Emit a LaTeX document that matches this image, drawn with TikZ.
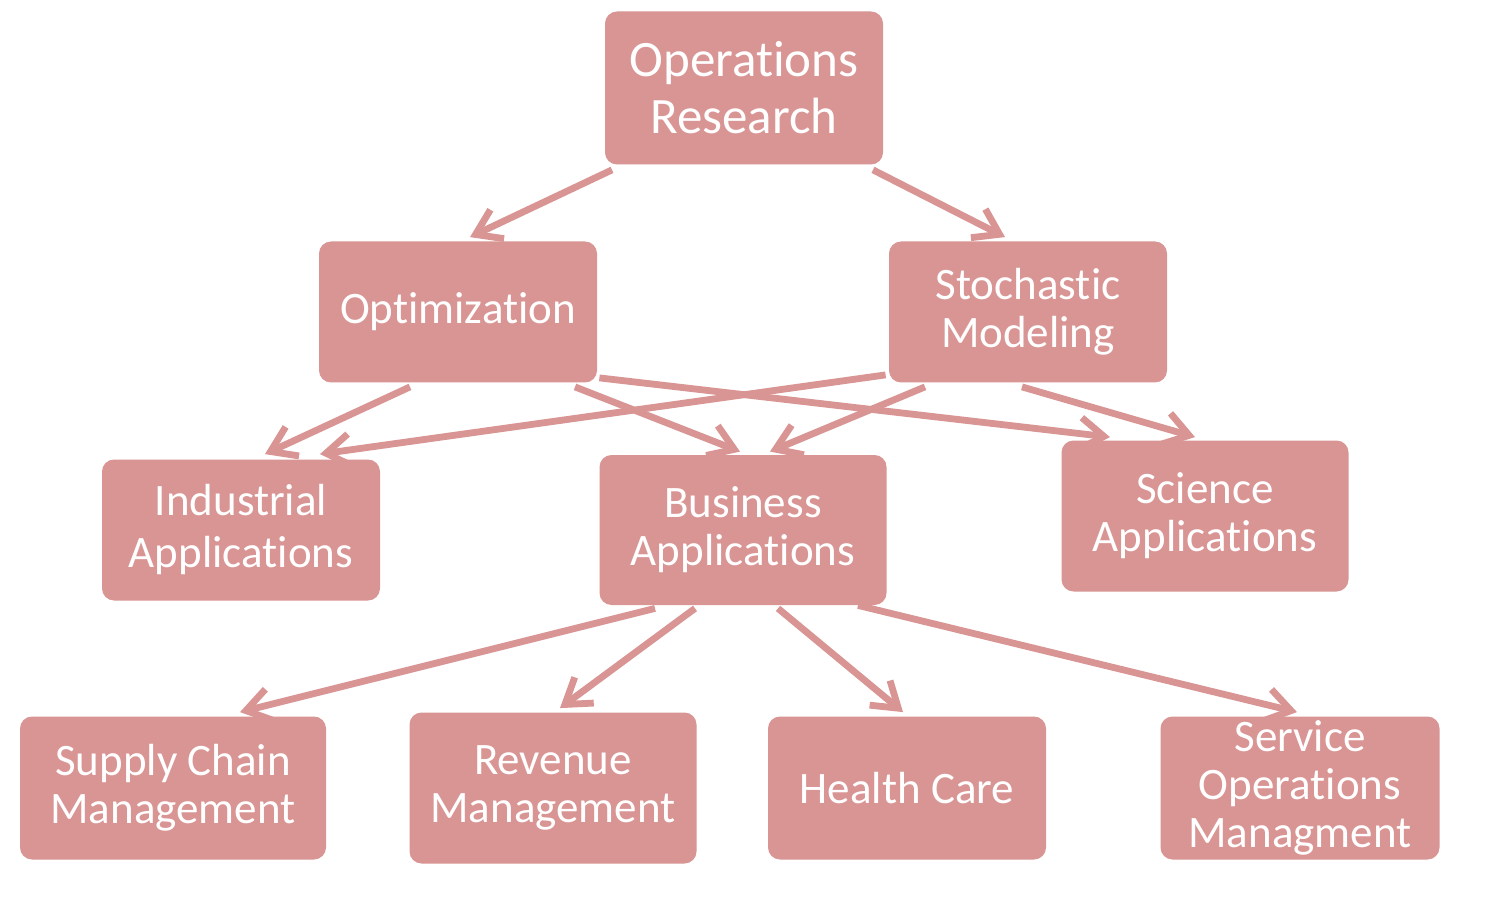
\documentclass[tikz,border=0pt]{standalone}
\usepackage{fontspec}
\setmainfont{Carlito}[Ligatures=NoCommon]
\usetikzlibrary{arrows.meta,calc}
\definecolor{rose}{HTML}{D99594}
\begin{document}
\begin{tikzpicture}[x=0.5pt,y=-0.5pt,
  box/.style={fill=rose,text=white,rounded corners=6pt,align=center,inner sep=0pt,
    font=\fontsize{22.5}{24}\selectfont},
  link/.style={draw=rose,line width=3.4pt,-{Straight Barb[length=12pt,width=16pt]}}]
\useasboundingbox[fill=white] (0,0) rectangle (1500,909);
\node[box,minimum width=139pt,minimum height=76.5pt,font=\fontsize{25.5}{28.5}\selectfont] (or) at (744,88) {Operations\\Research};
\node[box,minimum width=139pt,minimum height=70.5pt] (opt) at (458,312) {Optimization};
\node[box,minimum width=139pt,minimum height=70.5pt] (sto) at (1028,312) {Stochastic\\Modeling};
\node[box,minimum width=139pt,minimum height=70.5pt,font=\fontsize{22.5}{26}\selectfont] (ind) at (241,530) {Industrial\\Applications};
\node[box,minimum width=143.5pt,minimum height=75pt] (bus) at (743,530) {Business\\Applications};
\node[box,minimum width=143.5pt,minimum height=75.5pt] (sci) at (1205,516) {Science\\Applications};
\node[box,minimum width=153pt,minimum height=71.5pt] (sup) at (173,788) {Supply Chain\\Management};
\node[box,minimum width=143.5pt,minimum height=75.5pt] (rev) at (553,788) {Revenue\\Management};
\node[box,minimum width=139pt,minimum height=71.5pt] (hea) at (907,788) {Health Care};
\node[box,minimum width=139.5pt,minimum height=71.5pt] (ser) at (1300,788) {Service\\Operations\\Managment};
\draw[link] ($(or.south)+(-132,5)$) -- ($(opt.north)+(12,-4)$);
\draw[link] ($(or.south)+(129,5)$) -- ($(sto.north)+(-23,-4)$);
\draw[link] ($(opt.south)+(-48,4)$) -- ($(ind.north)+(24,-5)$);
\draw[link] ($(sto.south west)+(-3,-8)$) -- ($(ind.north)+(79,-5)$);
\draw[link] ($(opt.south)+(117,4)$) -- ($(bus.north)+(-3,-3)$);
\draw[link] ($(opt.south east)+(2,-5)$) -- ($(sci.north)+(-95,-3)$);
\draw[link] ($(sto.south)+(-103,4)$) -- ($(bus.north)+(27,-3)$);
\draw[link] ($(sto.south)+(-6,4)$) -- ($(sci.north)+(-10,-3)$);
\draw[link] ($(bus.south)+(-88,3)$) -- ($(sup.north)+(67,-4)$);
\draw[link] ($(bus.south)+(-48,3)$) -- ($(rev.north)+(7,-4)$);
\draw[link] ($(bus.south)+(35,3)$) -- ($(hea.north)+(-4,-4)$);
\draw[link] ($(bus.south)+(115,0)$) -- ($(ser.north)+(-3,-4)$);
\end{tikzpicture}
\end{document}
